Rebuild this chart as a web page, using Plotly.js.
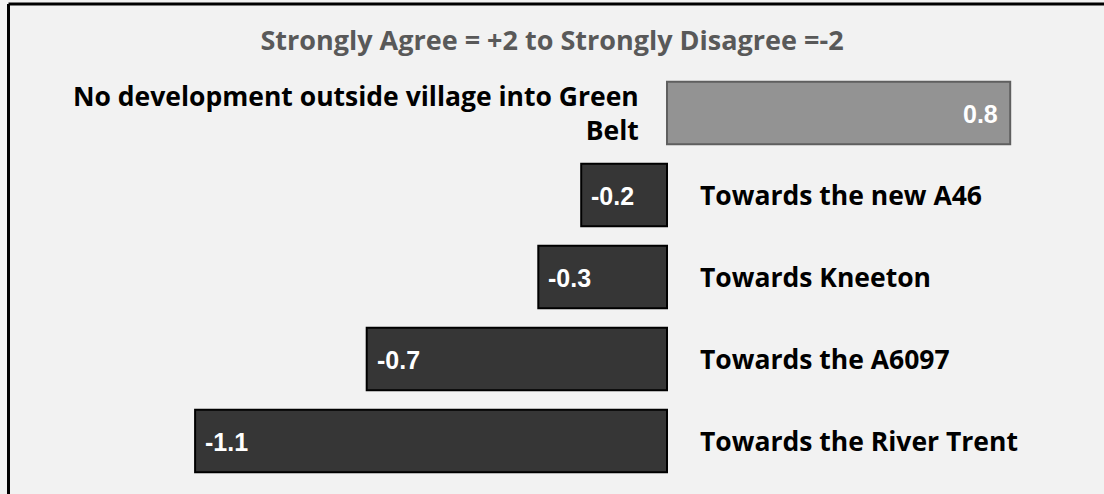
<!DOCTYPE html>
<html>
<head>
<meta charset="utf-8">
<script src="https://cdn.plot.ly/plotly-3.0.1.min.js"></script>
<style>
  html, body { margin: 0; padding: 0; background: #f2f2f2; }
  #chart { width: 1104px; height: 494px; }
</style>
</head>
<body>
<div id="chart"></div>
<script>
// Data
const categories = [
  "No development outside village into Green Belt",
  "Towards the new A46",
  "Towards Kneeton",
  "Towards the A6097",
  "Towards the River Trent"
];
const labelLines = [
  "No development outside village into Green<br>Belt",
  "Towards the new A46",
  "Towards Kneeton",
  "Towards the A6097",
  "Towards the River Trent"
];
const values = [0.8, -0.2, -0.3, -0.7, -1.1];
const valueLabels = ["0.8", "-0.2", "-0.3", "-0.7", "-1.1"];
const chartTitle = "Strongly Agree = +2 to Strongly Disagree =-2";

const fillColors = values.map(v => v >= 0 ? "#939393" : "#363636");
const lineColors = values.map(v => v >= 0 ? "#5f5f5f" : "#000000");

const trace = {
  type: "bar",
  orientation: "h",
  y: categories,
  x: values,
  marker: { color: fillColors, line: { color: lineColors, width: 2 } },
  hoverinfo: "skip",
  showlegend: false
};

const labelFont = "'Open Sans', Lato, sans-serif";
const annotations = [];
categories.forEach((c, i) => {
  const v = values[i];
  annotations.push({
    x: 0, y: c, xref: "x", yref: "y",
    text: "<b>" + labelLines[i] + "</b>",
    showarrow: false,
    xanchor: v >= 0 ? "right" : "left",
    align: v >= 0 ? "right" : "left",
    xshift: v >= 0 ? -26 : 31,
    font: { family: labelFont, size: 26.5, color: "#000000" }
  });
  annotations.push({
    x: v, y: c, xref: "x", yref: "y",
    text: "<b>" + valueLabels[i] + "</b>",
    showarrow: false,
    xanchor: v >= 0 ? "right" : "left",
    xshift: v >= 0 ? -10 : 8,
    yshift: -1,
    font: { family: "'Liberation Sans', Arial, sans-serif", size: 25, color: "#ffffff" }
  });
});

const W = 1104, H = 494, T = 72, B = 12;
const plotH = H - T - B;
const pyTop = (H - B - 4) / plotH;

const layout = {
  width: W, height: H,
  margin: { l: 0, r: 0, t: T, b: B, pad: 0 },
  paper_bgcolor: "#f2f2f2",
  plot_bgcolor: "#f2f2f2",
  bargap: 0.24,
  title: {
    text: "<b>" + chartTitle + "</b>",
    x: 0.5, xanchor: "center",
    y: 1 - 41 / H, yref: "container", yanchor: "middle",
    font: { family: labelFont, size: 27, color: "#595959" }
  },
  xaxis: {
    range: [-667 / 429, (W - 667) / 429],
    showgrid: false, zeroline: false, showticklabels: false, showline: false, ticks: ""
  },
  yaxis: {
    autorange: "reversed",
    showgrid: false, zeroline: false, showticklabels: false, showline: false, ticks: ""
  },
  annotations: annotations,
  shapes: [
    { type: "line", xref: "paper", yref: "paper", x0: 8.5 / W, x1: 1.05, y0: pyTop, y1: pyTop,
      line: { color: "#000000", width: 3 } },
    { type: "line", xref: "paper", yref: "paper", x0: 8.5 / W, x1: 8.5 / W, y0: pyTop, y1: -0.1,
      line: { color: "#000000", width: 3 } }
  ]
};

Plotly.newPlot("chart", [trace], layout, { staticPlot: true, displayModeBar: false });
</script>
</body>
</html>
